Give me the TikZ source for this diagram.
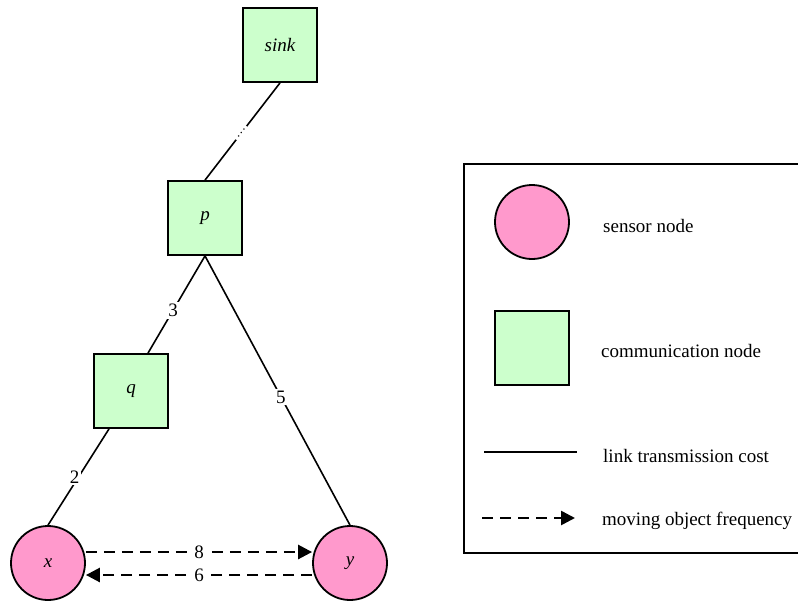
\documentclass[tikz,border=0pt]{standalone}
\usepackage{fontspec}
\setmainfont{Liberation Serif}
\usetikzlibrary{arrows.meta}
\definecolor{sensorpink}{HTML}{FF99CC}
\definecolor{commgreen}{HTML}{CCFFCC}
\begin{document}
\begin{tikzpicture}[x=1pt,y=-1pt,
  font=\fontsize{19}{23}\selectfont,
  commnode/.style={draw,line width=1.8pt,fill=commgreen,minimum size=74pt,inner sep=0pt,font=\fontsize{19}{23}\selectfont\itshape},
  sensnode/.style={draw,circle,line width=1.8pt,fill=sensorpink,minimum size=74pt,inner sep=0pt,font=\fontsize{19}{23}\selectfont\itshape},
  link/.style={line width=1.6pt},
  costlabel/.style={fill=white,inner sep=2pt},
  freq/.style={line width=2.6pt,dash pattern=on 11pt off 7pt,-{Triangle[length=14pt,width=14pt]}},
  legendtext/.style={anchor=base west,inner sep=0pt}]
\clip (0,0) rectangle (798,603);
\useasboundingbox (0,0) rectangle (798,603);

% network nodes
\node[commnode] (sink) at (280,45) {sink};
\node[commnode] (p) at (205,218) {p};
\node[commnode] (q) at (131,391) {q};
\node[sensnode] (x) at (48,563) {x};
\node[sensnode] (y) at (350,563) {y};

% links with transmission costs
\draw[link] (sink.south) -- node[pos=0.515,sloped,fill=white,inner sep=2pt,font=\fontsize{13}{14}\selectfont]{\char"2026} (p.north);
\draw[link] (p.south) -- node[costlabel,pos=0.56]{3} ([xshift=17pt]q.north);
\draw[link] ([xshift=-22pt]q.south) -- node[costlabel,pos=0.5,xshift=-4pt]{2} (x.north);
\draw[link] (p.south) -- node[costlabel,pos=0.524]{5} (y.north);

% moving object frequencies
\draw[freq] ([yshift=11pt]x.east) -- node[costlabel,inner sep=3pt]{8} ([yshift=11pt]y.west);
\draw[freq] ([yshift=-12pt]y.west) -- node[costlabel,inner sep=3pt]{6} ([yshift=-12pt]x.east);

% legend
\draw[line width=1.6pt] (464,164) rectangle (812,553);
\node[sensnode] (lsens) at (532,222) {};
\node[legendtext] (tsens) at (603,232) {sensor node};
\node[commnode] (lcomm) at (532,348) {};
\node[legendtext] (tcomm) at (601,357) {communication node};
\coordinate (la) at (484,452);
\coordinate (lb) at (577,452);
\draw[link] (la) -- (lb);
\node[legendtext] (tlink) at (603,462) {link transmission cost};
\coordinate (fa) at (482,518);
\coordinate (fb) at (575,518);
\draw[freq] (fa) -- (fb);
\node[legendtext] (tfreq) at (602,525) {moving object frequency};
\end{tikzpicture}
\end{document}
